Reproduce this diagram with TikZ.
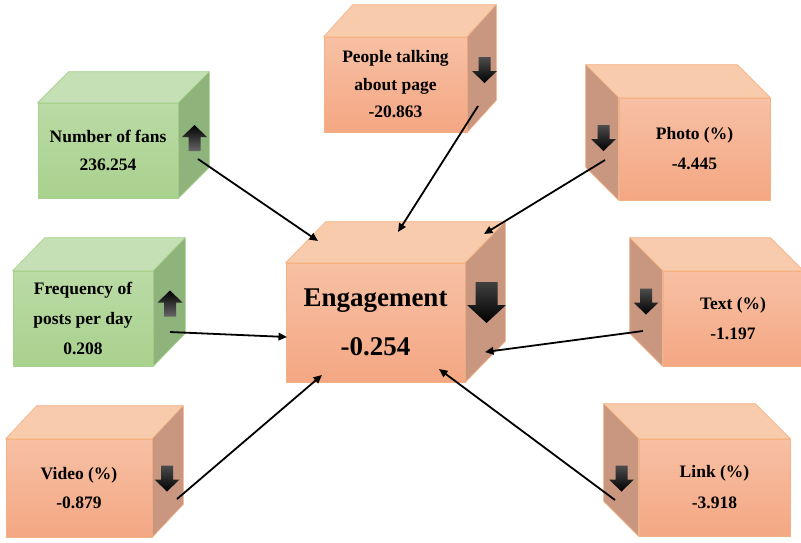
\documentclass[tikz,border=0pt]{standalone}
\usepackage{fontspec}
\setmainfont{Liberation Serif}
\usetikzlibrary{calc,arrows.meta}
\definecolor{gtop}{HTML}{C5E0B4}
\definecolor{gfa}{HTML}{BADBA5}
\definecolor{gfb}{HTML}{A9D18E}
\definecolor{gside}{HTML}{8EB47B}
\definecolor{gbord}{HTML}{A9D18E}
\definecolor{otop}{HTML}{F8CBAD}
\definecolor{ofa}{HTML}{F7C0A4}
\definecolor{ofb}{HTML}{F4A783}
\definecolor{oside}{HTML}{C9967F}
\definecolor{obord}{HTML}{F4B183}
\newcommand\mycubeR[4]{%
  \filldraw[fill=#4top, draw=#4bord, line width=0.6pt] (#1.north west) -- (#1.north east) -- ++(#2,-#3) -- ($(#1.north west)+(#2,-#3)$) -- cycle;
  \filldraw[fill=#4side, draw=#4bord, line width=0.6pt] (#1.north east) -- (#1.south east) -- ++(#2,-#3) -- ($(#1.north east)+(#2,-#3)$) -- cycle;}
\newcommand\mycubeL[4]{%
  \filldraw[fill=#4top, draw=#4bord, line width=0.6pt] (#1.north east) -- (#1.north west) -- ++(-#2,-#3) -- ($(#1.north east)+(-#2,-#3)$) -- cycle;
  \filldraw[fill=#4side, draw=#4bord, line width=0.6pt] (#1.north west) -- (#1.south west) -- ++(-#2,-#3) -- ($(#1.north west)+(-#2,-#3)$) -- cycle;}
\tikzset{
  gface/.style={draw=gbord, line width=0.6pt, top color=gfa, bottom color=gfb, align=center, inner sep=0pt, font=\bfseries\fontsize{17.5}{29}\selectfont},
  oface/.style={draw=obord, line width=0.6pt, top color=ofa, bottom color=ofb, align=center, inner sep=0pt, font=\bfseries\fontsize{17.5}{29}\selectfont},
  uparrow/.pic={\shade[top color=black, bottom color=black!60] (0,-13) -- (12.5,-1) -- (6,-1) -- (6,13) -- (-6,13) -- (-6,-1) -- (-12.5,-1) -- cycle;},
  downarrow/.pic={\shade[top color=black!70, bottom color=black] (0,13) -- (12.5,1) -- (6,1) -- (6,-13) -- (-6,-13) -- (-6,1) -- (-12.5,1) -- cycle;},
  bigdownarrow/.pic={\shade[top color=black!75, bottom color=black] (0,20.5) -- (19.5,2.5) -- (11,2.5) -- (11,-20.5) -- (-11,-20.5) -- (-11,2.5) -- (-19.5,2.5) -- cycle;},
  conn/.style={line width=1.8pt, -{Triangle[length=8.5pt,width=7.5pt]}}
}
\begin{document}
\begin{tikzpicture}[x=1pt,y=-1pt,line join=round]
\useasboundingbox[fill=white] (0,0) rectangle (801,542);
% front faces
\node[gface, minimum width=140pt, minimum height=95pt, font=\bfseries\fontsize{17.5}{28}\selectfont] (fans) at (108,150.5) {Number of fans\\236.254};
\node[gface, minimum width=140pt, minimum height=95pt, font=\bfseries\fontsize{17.5}{30}\selectfont] (freq) at (83,318.5) {Frequency of\\posts per day\\0.208};
\node[oface, minimum width=146pt, minimum height=98pt] (video) at (79,488) {Video (\%)\\-0.879};
\node[oface, minimum width=143pt, minimum height=95pt, font=\bfseries\fontsize{17.5}{27.5}\selectfont] (people) at (395.5,84.5) {People talking\\about page\\-20.863};
\node[oface, minimum width=179pt, minimum height=119pt, font=\bfseries\fontsize{27}{49}\selectfont] (eng) at (375.5,322.5) {Engagement\\-0.254};
\node[oface, minimum width=151pt, minimum height=102pt, font=\bfseries\fontsize{17.5}{30}\selectfont] (photo) at (694.5,149) {Photo (\%)\\-4.445};
\node[oface, minimum width=140pt, minimum height=95pt, font=\bfseries\fontsize{17.5}{30}\selectfont] (text) at (733,318.5) {Text (\%)\\-1.197};
\node[oface, minimum width=151pt, minimum height=97pt, font=\bfseries\fontsize{17.5}{31}\selectfont] (link) at (714.5,487.5) {Link (\%)\\-3.918};
% 3D faces
\mycubeR{fans}{31}{31}{g}
\mycubeR{freq}{32}{33}{g}
\mycubeR{video}{31}{33}{o}
\mycubeR{people}{29}{32}{o}
\mycubeR{eng}{40}{41}{o}
\mycubeL{photo}{33}{33}{o}
\mycubeL{text}{33}{33}{o}
\mycubeL{link}{35}{35}{o}
% block arrows
\pic at (194.5,138) {uparrow};
\pic at (170,303.5) {uparrow};
\pic at (167,478.5) {downarrow};
\pic at (484.5,70) {downarrow};
\pic at (603.5,138) {downarrow};
\pic at (646,301.5) {downarrow};
\pic at (621.5,478.5) {downarrow};
\pic at (486.5,302.5) {bigdownarrow};
% connector ends
\coordinate (fans-o) at (198,159);
\coordinate (freq-o) at (170,332);
\coordinate (video-o) at (177,499);
\coordinate (people-o) at (478,106);
\coordinate (photo-o) at (605,160);
\coordinate (text-o) at (643,331);
\coordinate (link-o) at (615,500);
\coordinate (eng-a) at (318,241);
\coordinate (eng-b) at (398,232);
\coordinate (eng-c) at (484,234);
\coordinate (eng-d) at (287,337);
\coordinate (eng-e) at (485,352);
\coordinate (eng-f) at (322,375);
\coordinate (eng-g) at (439,369);
\draw[conn] (fans-o) -- (eng-a);
\draw[conn] (people-o) -- (eng-b);
\draw[conn] (photo-o) -- (eng-c);
\draw[conn] (freq-o) -- (eng-d);
\draw[conn] (text-o) -- (eng-e);
\draw[conn] (video-o) -- (eng-f);
\draw[conn] (link-o) -- (eng-g);
\end{tikzpicture}
\end{document}
